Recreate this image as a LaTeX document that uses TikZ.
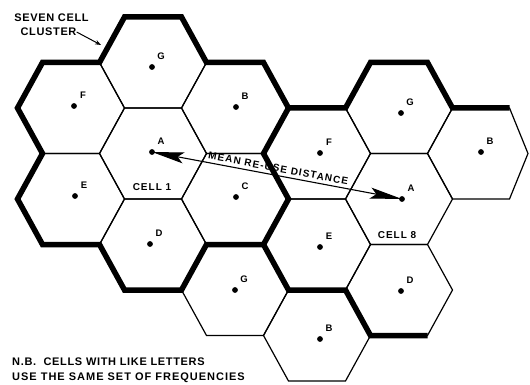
\documentclass[tikz,border=0pt]{standalone}
\usepackage{fontspec}
\setmainfont{Liberation Sans}
\newfontfamily\spacedfont[LetterSpace=6]{Liberation Sans}
\newfontfamily\widefont[LetterSpace=9]{Liberation Sans}
\newfontfamily\cellfont[LetterSpace=10]{Liberation Sans}
\newfontfamily\distfont[LetterSpace=11]{Liberation Sans}
\usetikzlibrary{arrows.meta}
\newcommand\hexcell[2]{%
  \draw[cellline] (#1-53.5,#2) -- (#1-28.5,#2-45.5) -- (#1+28.5,#2-45.5) -- (#1+53.5,#2)
    -- (#1+28.5,#2+45.5) -- (#1-28.5,#2+45.5) -- cycle;}
\newcommand\celllabel[4]{%
  \node[celldot] (d#1) at (#2,#3) {};
  \node[letter] (l#1) at (#2+9,#3-11) {#4};}
\begin{document}
\begin{tikzpicture}[x=1pt,y=-1pt,
  cellline/.style={line width=1.2pt, line join=miter},
  clusterline/.style={line width=5.5pt, line join=miter, line cap=butt},
  celldot/.style={circle, fill=black, inner sep=0pt, minimum size=5.8pt},
  letter/.style={font=\fontsize{9.5}{10}\selectfont\bfseries, inner sep=0pt},
  celltag/.style={font=\fontsize{10}{11}\selectfont\cellfont\bfseries, inner sep=0pt},
  notetext/.style={font=\fontsize{11}{13}\selectfont\spacedfont\bfseries, inner sep=0pt},
  distarrow/.style={line width=1.1pt, {Stealth[length=32pt,width=11pt,inset=6pt]}-{Stealth[length=32pt,width=11pt,inset=6pt]}},
  pointer/.style={line width=1pt, -{Stealth[length=6pt,width=4.5pt]}}
]
\useasboundingbox (0,0) rectangle (530,385);

% thin cell outlines
\hexcell{153}{62.5}   % G1
\hexcell{71}{108}     % F1
\hexcell{235}{108}    % B1
\hexcell{153}{153.5}  % A1
\hexcell{71}{199}     % E1
\hexcell{235}{199}    % C1
\hexcell{153}{244.5}  % D1
\hexcell{235}{290}    % G3
\hexcell{317}{153.5}  % F2
\hexcell{317}{244.5}  % E2
\hexcell{317}{335.5}  % B3
\hexcell{399}{108}    % G2
\hexcell{399}{199}    % A2
\hexcell{399}{290}    % D2
\draw[cellline] (427.5,153.5) -- (452.5,108) -- (509.5,108) -- (528,153.5)
  -- (509.5,199) -- (452.5,199) -- cycle; % B2

% seven cell cluster outline (cluster 1)
\draw[clusterline] (124.5,17) -- (181.5,17) -- (206.5,62.5) -- (263.5,62.5)
  -- (288.5,108) -- (263.5,153.5) -- (288.5,199) -- (263.5,244.5)
  -- (206.5,244.5) -- (181.5,290) -- (124.5,290) -- (99.5,244.5)
  -- (42.5,244.5) -- (17.5,199) -- (42.5,153.5) -- (17.5,108)
  -- (42.5,62.5) -- (99.5,62.5) -- cycle;
% cluster 2 outline (partial)
\draw[clusterline] (288.5,108) -- (345.5,108) -- (370.5,62.5) -- (427.5,62.5)
  -- (452.5,108) -- (509.5,108);
\draw[clusterline] (263.5,244.5) -- (288.5,290) -- (345.5,290) -- (370.5,335.5)
  -- (427.5,335.5);

% dots and letters
\celllabel{G1}{152}{67}{G}
\celllabel{F1}{74}{106}{F}
\celllabel{B1}{236}{107}{B}
\celllabel{A1}{152}{152}{A}
\celllabel{E1}{75}{196}{E}
\celllabel{C1}{236}{197}{C}
\celllabel{D1}{150}{244}{D}
\celllabel{G3}{235}{290}{G}
\celllabel{F2}{320}{153}{F}
\celllabel{E2}{320}{247}{E}
\celllabel{B3}{320}{339}{B}
\celllabel{G2}{401}{113}{G}
\celllabel{A2}{402}{199}{A}
\celllabel{D2}{401}{291}{D}
\celllabel{B2}{481}{152}{B}

\node[celltag] (cell1) at (152,187) {CELL 1};
\node[celltag] (cell8) at (397,235) {CELL 8};

% mean re-use distance
\draw[distarrow] (dA1.center) -- (dA2.center)
  node[midway, sloped, above=3pt, inner sep=0pt, font=\fontsize{10}{11}\selectfont\distfont\bfseries] (distlbl) {MEAN RE-USE DISTANCE};

% cluster label
\node[notetext] (seven) at (51.5,17.5) {SEVEN CELL};
\node[notetext] (cluster) at (48.5,32) {CLUSTER};
\coordinate (clustertip) at (101,45);
\draw[pointer] (cluster.east) -- (clustertip);

% note
\node[notetext, anchor=west] (note1) at (12,362) {N.B.\ \ CELLS WITH LIKE LETTERS};
\node[notetext, anchor=west, font=\fontsize{11}{13}\selectfont\widefont\bfseries] (note2) at (12,378) {USE THE SAME SET OF FREQUENCIES};
\end{tikzpicture}
\end{document}
